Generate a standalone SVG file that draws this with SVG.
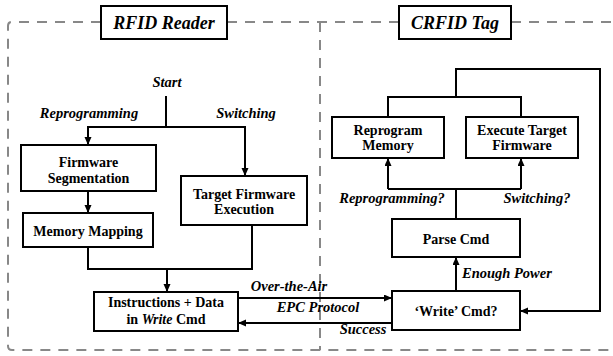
<svg xmlns="http://www.w3.org/2000/svg" width="613" height="356" viewBox="0 0 613 356">
<defs>
<marker id="ah" markerUnits="userSpaceOnUse" markerWidth="9" markerHeight="8" refX="8" refY="3.5" orient="auto">
<path d="M0,0 L8,3.5 L0,7 z" fill="#000"/>
</marker>
<style>
.frame{fill:none;stroke:#888;stroke-width:2;stroke-dasharray:10,8}
.box{fill:#fff;stroke:#000;stroke-width:2}
.title{font-family:"Liberation Serif",serif;font-weight:bold;font-style:italic;font-size:18px;text-anchor:middle}
.node{font-family:"Liberation Serif",serif;font-weight:bold;font-size:14px;text-anchor:middle}
.lbl{font-family:"Liberation Serif",serif;font-weight:bold;font-style:italic;font-size:14.5px;text-anchor:middle}
.wire{fill:none;stroke:#000;stroke-width:2}
.arr{fill:none;stroke:#000;stroke-width:2;marker-end:url(#ah)}
</style>
</defs>
<rect width="613" height="356" fill="#fff"/>
<g id="frame">
<path class="frame" d="M101 22 H12 Q8 22 8 26 V346 Q8 350 12 350 H613"/>
<path class="frame" d="M227 22 H399"/>
<path class="frame" d="M511 22 H613"/>
<path class="frame" d="M320 22 V350"/>
</g>
<g id="connectors">
<path class="wire" d="M166 96 V127"/>
<path class="arr" d="M166 127 H88 V145"/>
<path class="arr" d="M166 127 H245 V176"/>
<path class="arr" d="M88 191 V213"/>
<path class="wire" d="M88 247 V269 H252 V225"/>
<path class="arr" d="M167 269 V292"/>
<path class="arr" d="M238 298 H392"/>
<path class="arr" d="M392 323 H238"/>
<path class="arr" d="M456 291 V257"/>
<path class="wire" d="M456 219 V189 M388 189 H521"/>
<path class="arr" d="M388 189 V158"/>
<path class="arr" d="M521 189 V158"/>
<path class="wire" d="M388 117 V97 H521 V117"/>
<path class="arr" d="M456 97 V69 H600 V311 H520"/>
</g>
<g id="label-rfid-reader">
<rect class="box" x="101" y="6" width="126" height="33"/>
<text class="title" x="164" y="28.5">RFID Reader</text>
</g>
<g id="label-crfid-tag">
<rect class="box" x="399" y="6" width="112" height="33"/>
<text class="title" x="455" y="28.5">CRFID Tag</text>
</g>
<g id="labels">
<text class="lbl" x="167" y="87">Start</text>
<text class="lbl" x="89" y="118">Reprogramming</text>
<text class="lbl" x="246" y="118">Switching</text>
<text class="lbl" x="289" y="291">Over-the-Air</text>
<text class="lbl" x="318" y="312">EPC Protocol</text>
<text class="lbl" x="363" y="334">Success</text>
<text class="lbl" x="392" y="203">Reprogramming?</text>
<text class="lbl" x="537" y="203">Switching?</text>
<text class="lbl" x="462" y="278" style="text-anchor:start">Enough Power</text>
</g>
<g id="node-firmware-segmentation">
<rect class="box" x="21" y="145" width="135" height="46"/>
<text class="node" x="88.5" y="167">Firmware</text>
<text class="node" x="88.5" y="183">Segmentation</text>
</g>
<g id="node-memory-mapping">
<rect class="box" x="23" y="213" width="130" height="34"/>
<text class="node" x="88" y="236">Memory Mapping</text>
</g>
<g id="node-target-firmware-execution">
<rect class="box" x="181" y="176" width="126" height="49"/>
<text class="node" x="244" y="199">Target Firmware</text>
<text class="node" x="244" y="214">Execution</text>
</g>
<g id="node-instructions">
<rect class="box" x="94" y="292" width="144" height="39"/>
<text class="node" x="166" y="307">Instructions + Data</text>
<text class="node" x="166" y="324">in <tspan font-style="italic">Write</tspan> Cmd</text>
</g>
<g id="node-reprogram-memory">
<rect class="box" x="332" y="117" width="112" height="41"/>
<text class="node" x="388" y="135">Reprogram</text>
<text class="node" x="388" y="150">Memory</text>
</g>
<g id="node-execute-target-firmware">
<rect class="box" x="466" y="117" width="112" height="41"/>
<text class="node" x="522" y="135">Execute Target</text>
<text class="node" x="522" y="150">Firmware</text>
</g>
<g id="node-parse-cmd">
<rect class="box" x="392" y="219" width="128" height="38"/>
<text class="node" x="456" y="244">Parse Cmd</text>
</g>
<g id="node-write-cmd">
<rect class="box" x="392" y="291" width="128" height="39"/>
<text class="node" x="456" y="316">‘Write’ Cmd?</text>
</g>
</svg>
